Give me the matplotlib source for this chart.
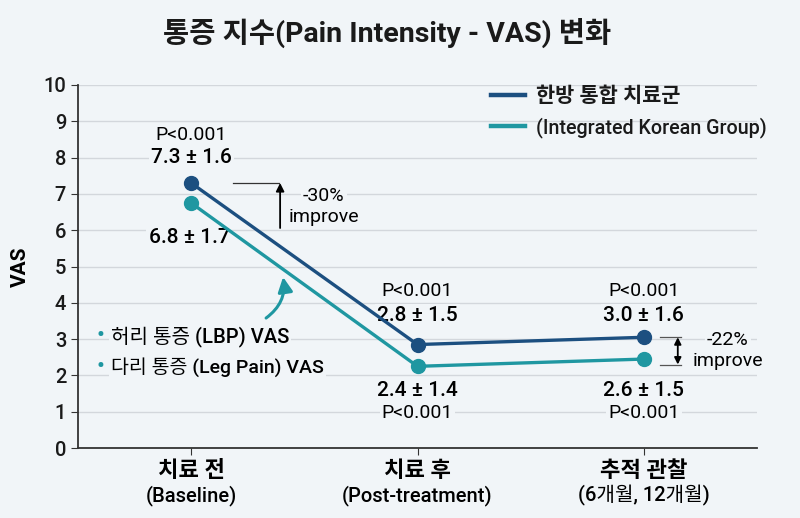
import matplotlib.pyplot as plt
from matplotlib.lines import Line2D
import numpy as np

# 폰트: 라틴은 Roboto, 한글은 Noto Sans CJK KR로 넘어감
plt.rcParams['font.family'] = ['Roboto', 'Noto Sans CJK KR', 'DejaVu Sans']
plt.rcParams['font.weight'] = 'medium'
plt.rcParams['axes.unicode_minus'] = False

# 데이터
stages_ko = ['치료 전', '치료 후', '추적 관찰']
stages_en = ['(Baseline)', '(Post-treatment)', '(6개월, 12개월)']
lbp_vas = [7.3, 2.85, 3.05]
leg_vas = [6.75, 2.25, 2.45]
lbp_labels = ['7.3 ± 1.6', '2.8 ± 1.5', '3.0 ± 1.6']
leg_labels = ['6.8 ± 1.7', '2.4 ± 1.4', '2.6 ± 1.5']
p_values = ['P<0.001', 'P<0.001', 'P<0.001']
yticks = list(range(0, 11))

colors = {
    'dark': '#1c4f80',
    'teal': '#1f97a1',
    'text': '#1a1a1a',
    'grid': '#d3d7dc',
    'bg': '#f1f5f8',
}

fig = plt.figure(figsize=(8, 5.18), dpi=100, facecolor=colors['bg'])
ax = fig.add_axes([78 / 800, 70 / 518, 679 / 800, 363 / 518])
ax.set_facecolor('none')

x = np.arange(len(stages_ko))
ax.plot(x, lbp_vas, color=colors['dark'], lw=2.4, marker='o', ms=10, zorder=4)
ax.plot(x, leg_vas, color=colors['teal'], lw=2.4, marker='o', ms=10, zorder=4)

ax.set_xlim(-0.5, 2.5)
ax.set_ylim(0, 10)
ax.set_yticks(yticks)
ax.tick_params(axis='y', labelsize=14.5, colors='#333333', labelcolor=colors['text'], length=5)
ax.tick_params(axis='x', length=5, colors='#333333')
ax.set_xticks(x)
ax.set_xticklabels([])
ax.grid(axis='y', color=colors['grid'], lw=1)
ax.set_axisbelow(True)
for s in ['top', 'right']:
    ax.spines[s].set_visible(False)
for s in ['left', 'bottom']:
    ax.spines[s].set_color('#333333')
    ax.spines[s].set_linewidth(1.3)

ax.set_ylabel('VAS', fontsize=15, fontweight='bold', labelpad=10)

# x축 라벨 (두 줄)
for xi, ko, en in zip(x, stages_ko, stages_en):
    ax.text(xi, -0.62, ko, ha='center', va='center', fontsize=16, fontweight='bold')
    ax.text(xi, -1.32, en, ha='center', va='center', fontsize=14.5)

box = dict(facecolor=colors['bg'], edgecolor='none', pad=1.5)

# 값 라벨
ax.text(x[0], 8.62, p_values[0], ha='center', va='center', fontsize=14, fontweight='normal', bbox=box)
ax.text(x[0], 7.99, lbp_labels[0], ha='center', va='center', fontsize=15, bbox=box)
ax.text(x[0] - 0.01, 5.81, leg_labels[0], ha='center', va='center', fontsize=15, bbox=box)
for xi in x[1:]:
    ax.text(xi, 4.33, p_values[xi], ha='center', va='center', fontsize=14, fontweight='normal', bbox=box)
    ax.text(xi, 3.64, lbp_labels[xi], ha='center', va='center', fontsize=15, bbox=box)
    ax.text(xi, 1.58, leg_labels[xi], ha='center', va='center', fontsize=15, bbox=box)
    ax.text(xi, 0.97, p_values[xi], ha='center', va='center', fontsize=14, fontweight='normal', bbox=box)

# -30% 표시
ax.plot([0.185, 0.39], [lbp_vas[0], lbp_vas[0]], color='#333333', lw=0.9)
ax.annotate('', xy=(0.393, lbp_vas[0]), xytext=(0.393, 6.06),
            arrowprops=dict(arrowstyle='-|>', color='black', lw=1.3,
                            shrinkA=0, shrinkB=0, mutation_scale=12))
ax.text(0.585, 6.94, '-30%', ha='center', va='center', fontsize=14, fontweight='normal', bbox=box)
ax.text(0.585, 6.36, 'improve', ha='center', va='center', fontsize=14, fontweight='normal', bbox=box)

# -22% 표시
ax.plot([2.07, 2.165], [lbp_vas[2], lbp_vas[2]], color='#555555', lw=0.9)
ax.plot([2.07, 2.165], [leg_vas[2] - 0.15, leg_vas[2] - 0.15], color='#555555', lw=0.9)
ax.annotate('', xy=(2.15, lbp_vas[2]), xytext=(2.15, leg_vas[2] - 0.15),
            arrowprops=dict(arrowstyle='<|-|>', color='black', lw=1.3,
                            shrinkA=0, shrinkB=0, mutation_scale=10))
ax.text(2.37, 2.98, '-22%', ha='center', va='center', fontsize=14, fontweight='normal', bbox=box)
ax.text(2.37, 2.40, 'improve', ha='center', va='center', fontsize=14, fontweight='normal', bbox=box)

# 곡선 화살표
ax.annotate('', xy=(0.406, 4.71), xytext=(0.331, 3.58),
            arrowprops=dict(arrowstyle='-|>', color=colors['teal'], lw=2.2,
                            connectionstyle='arc3,rad=0.3', mutation_scale=22,
                            shrinkA=0, shrinkB=0))

# 부위별 설명
ax.text(-0.40, 3.06, '•', color=colors['teal'], ha='center', va='center', fontsize=16)
ax.text(-0.355, 3.06, '허리 통증 (LBP) VAS', ha='left', va='center', fontsize=14.5, bbox=box)
ax.text(-0.40, 2.23, '•', color=colors['teal'], ha='center', va='center', fontsize=16)
ax.text(-0.355, 2.23, '다리 통증 (Leg Pain) VAS', ha='left', va='center', fontsize=14, bbox=box)

# 범례 (마커 없는 선)
handles = [Line2D([], [], color=colors['dark'], lw=3.2),
           Line2D([], [], color=colors['teal'], lw=3.2)]
leg = ax.legend(handles, ['한방 통합 치료군', '(Integrated Korean Group)'],
                loc='upper left', bbox_to_anchor=(0.582, 1.045), frameon=False, fontsize=14.2,
                handlelength=1.75, handletextpad=0.55, labelspacing=0.55)
leg.get_texts()[0].set_fontweight('bold')
leg.get_texts()[0].set_fontsize(15)
for t in leg.get_texts():
    t.set_color(colors['text'])

fig.suptitle('통증 지수(Pain Intensity - VAS) 변화', fontsize=20.5, fontweight='bold',
             color=colors['text'], x=0.484, y=0.965)

plt.savefig('out.png', dpi=100, facecolor=colors['bg'])
plt.close()
